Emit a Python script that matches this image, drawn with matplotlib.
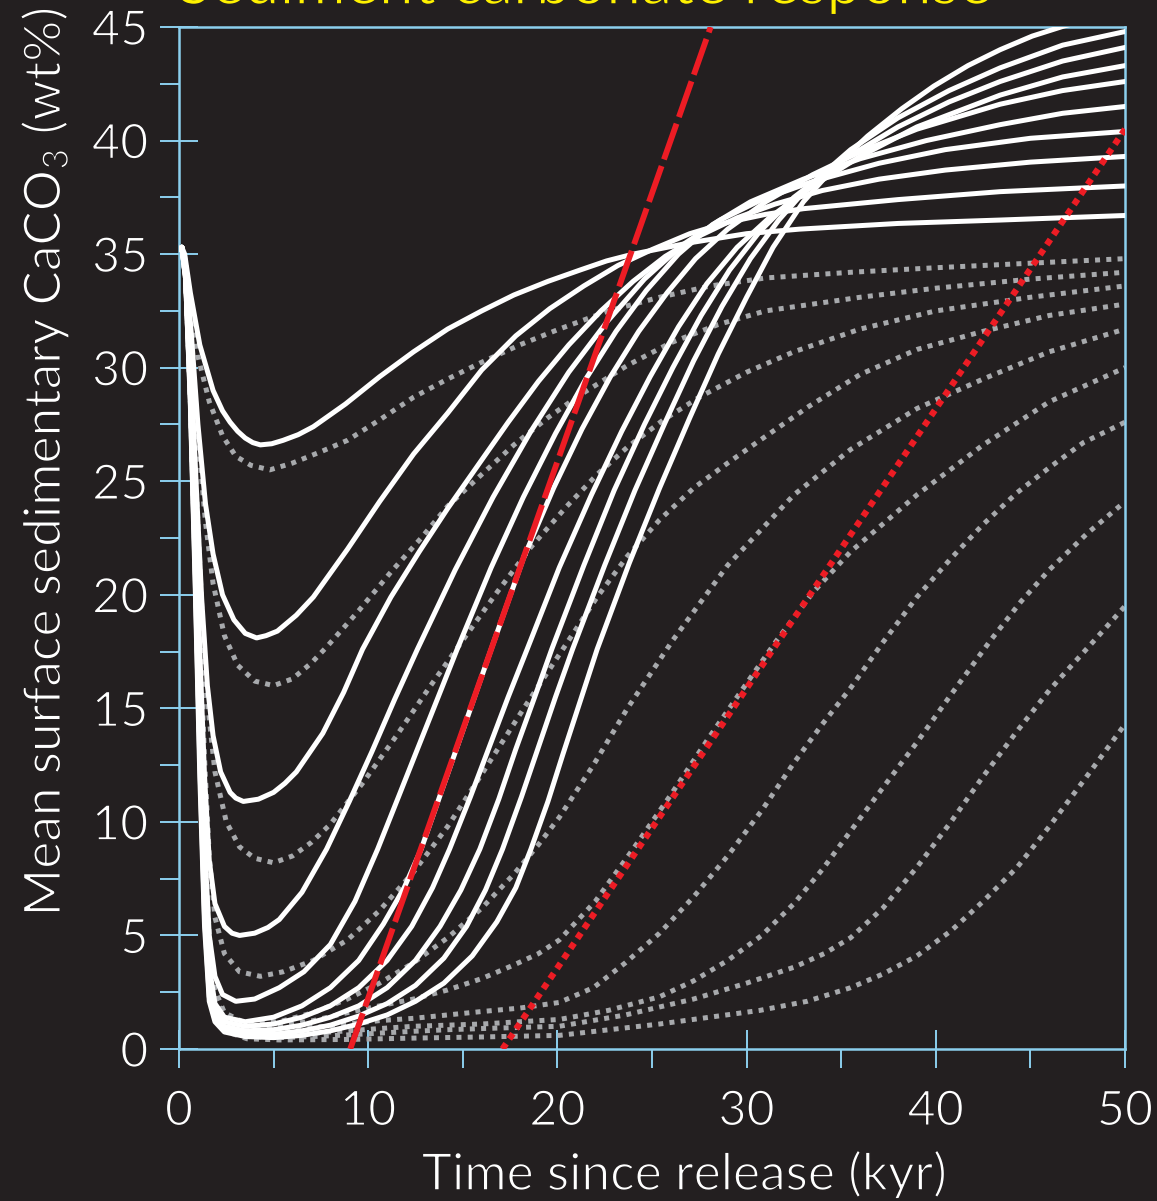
import matplotlib
matplotlib.use("Agg")
import matplotlib.pyplot as plt
import matplotlib.patheffects as pe
from matplotlib.ticker import MultipleLocator

# colours taken from the slide
BG = "#231f20"
AXIS_BLUE = "#8ccfee"
GREY = "#a7a9ac"
RED = "#ed1c24"
YELLOW = "#fff200"

# --- solid model runs (time kyr, CaCO3 wt%) ---
solid_1 = [(0, 35.2), (0.15, 35.3), (0.3, 35.0), (0.6, 33.3), (1.1, 31.0), (1.8, 29.0), (2.3, 28.1),
           (2.7, 27.6), (3.1, 27.2), (3.5, 26.9), (3.9, 26.7), (4.3, 26.6), (4.9, 26.65), (5.5, 26.8),
           (6.3, 27.05), (7.1, 27.4), (8.8, 28.4), (10.6, 29.6), (12.4, 30.7),
           (14.2, 31.7), (16.0, 32.5), (17.7, 33.2), (19.5, 33.8), (21.2, 34.3), (22.6, 34.7),
           (24.0, 35.0), (27.0, 35.5), (30.0, 35.9), (32.8, 36.1), (38.0, 36.35), (43.4, 36.5),
           (50.0, 36.7)]
solid_2 = [(0, 35.2), (0.15, 35.3), (0.35, 34.5), (0.65, 31.5), (1.0, 27.5), (1.4, 24.0), (1.8, 21.8),
           (2.3, 20.0), (2.9, 18.9), (3.5, 18.3), (4.1, 18.1), (4.6, 18.2), (5.2, 18.4), (6.2, 19.1),
           (7.1, 19.9), (8.9, 22.0), (10.6, 24.1), (12.4, 26.2), (14.2, 28.0), (16.0, 29.9),
           (17.8, 31.4), (19.6, 32.6), (21.4, 33.6), (23.2, 34.5), (25.0, 35.2), (27.0, 35.9),
           (29.0, 36.4), (31.0, 36.75), (33.0, 37.0), (38.0, 37.4), (43.4, 37.75), (50.0, 38.0)]
solid_3 = [(0, 35.2), (0.15, 35.3), (0.35, 34.3), (0.6, 30.5), (0.9, 25.0), (1.2, 19.8), (1.5, 16.0),
           (1.8, 13.8), (2.2, 12.2), (2.7, 11.3), (3.0, 11.05), (3.4, 10.9), (4.2, 11.0), (5.0, 11.3),
           (5.6, 11.7), (6.2, 12.2), (7.6, 13.9), (8.7, 15.7), (9.7, 17.6), (11.2, 19.9),
           (12.7, 21.9), (14.2, 23.8), (15.8, 25.7), (17.4, 27.6), (19.0, 29.4), (20.6, 31.0),
           (22.3, 32.5), (24.0, 33.8), (25.7, 34.9), (27.5, 35.8), (29.5, 36.6), (31.5, 37.2),
           (34.0, 37.8), (37.0, 38.3), (40.5, 38.7), (45.0, 39.05), (50.0, 39.3)]
solid_4 = [(0, 35.2), (0.15, 35.3), (0.35, 34.2), (0.6, 29.8), (0.85, 24.0), (1.1, 17.5), (1.35, 12.0),
           (1.6, 8.3), (1.9, 6.4), (2.4, 5.4), (2.8, 5.1), (3.2, 5.0), (4.0, 5.1), (4.7, 5.35),
           (5.3, 5.7), (6.5, 6.9), (7.8, 8.8), (9.0, 10.9), (10.2, 13.1), (11.4, 15.4), (12.6, 17.6),
           (14.6, 21.1), (16.6, 24.3), (18.6, 27.2), (20.6, 29.8), (22.6, 32.0), (24.6, 33.9),
           (26.6, 35.4), (28.6, 36.5), (30.8, 37.4), (33.5, 38.2), (37.0, 39.0), (40.5, 39.6),
           (45.0, 40.1), (50.0, 40.4)]
solid_5 = [(0, 35.2), (0.15, 35.3), (0.35, 34.2), (0.6, 29.5), (0.85, 23.0), (1.1, 15.5), (1.35, 9.0),
           (1.6, 5.0), (1.9, 3.2), (2.3, 2.4), (3.0, 2.1), (4.0, 2.2), (5.3, 2.7), (6.6, 3.4),
           (8.0, 4.6), (9.3, 6.5), (10.5, 8.8), (11.6, 11.1), (12.6, 13.2), (13.7, 15.5),
           (14.7, 17.6), (16.5, 21.2), (18.2, 24.3), (19.9, 27.1), (21.5, 29.5), (23.1, 31.6),
           (24.7, 33.4), (26.4, 35.0), (28.2, 36.3), (30.2, 37.3), (33.0, 38.3), (36.0, 39.2),
           (39.5, 40.0), (43.4, 40.7), (46.7, 41.2), (50.0, 41.5)]
solid_6 = [(0, 35.2), (0.15, 35.3), (0.35, 34.1), (0.6, 29.2), (0.85, 22.5), (1.1, 14.5), (1.35, 7.5),
           (1.6, 3.6), (1.9, 2.0), (2.4, 1.4), (3.5, 1.2), (5.0, 1.4), (6.5, 1.9), (8.0, 2.7),
           (9.5, 3.9), (10.8, 5.5), (11.9, 7.1), (12.8, 8.8), (14.7, 13.3), (16.5, 17.6),
           (18.2, 21.6), (19.8, 24.7), (21.3, 27.3), (22.8, 29.6), (24.3, 31.6), (25.8, 33.3),
           (27.3, 34.8), (29.0, 36.1), (31.0, 37.3), (33.5, 38.5), (36.0, 39.5), (39.0, 40.5),
           (43.4, 41.6), (46.7, 42.2), (50.0, 42.6)]
solid_7 = [(0, 35.2), (0.15, 35.3), (0.35, 34.0), (0.6, 29.0), (0.85, 22.0), (1.1, 13.8), (1.35, 6.8),
           (1.6, 3.0), (1.9, 1.7), (2.4, 1.2), (3.5, 1.0), (5.0, 1.1), (6.5, 1.4), (8.0, 1.9),
           (9.5, 2.7), (11.0, 3.9), (12.3, 5.4), (13.4, 7.1), (14.3, 8.8), (15.4, 11.1),
           (16.4, 13.3), (17.4, 15.5), (18.4, 17.6), (20.1, 21.2), (21.8, 24.4), (23.4, 27.2),
           (24.9, 29.6), (26.4, 31.8), (27.9, 33.7), (29.5, 35.3), (31.2, 36.6), (33.5, 38.0),
           (36.0, 39.3), (39.0, 40.6), (43.4, 42.0), (46.7, 42.8), (50.0, 43.3)]
solid_8 = [(0, 35.2), (0.15, 35.3), (0.35, 34.0), (0.6, 28.8), (0.85, 21.5), (1.1, 13.2), (1.35, 6.2),
           (1.6, 2.6), (1.9, 1.5), (2.4, 1.0), (3.5, 0.8), (5.0, 0.85), (6.5, 1.05), (8.0, 1.4),
           (9.5, 1.9), (11.0, 2.7), (12.5, 3.9), (13.8, 5.4), (14.9, 7.0), (15.9, 8.8),
           (16.9, 11.0), (17.8, 13.2), (18.8, 15.5), (19.7, 17.6), (21.4, 21.3), (23.0, 24.6),
           (24.6, 27.5), (26.1, 30.0), (27.6, 32.3), (29.1, 34.3), (30.7, 36.0), (32.5, 37.5),
           (35.0, 39.1), (38.0, 40.6), (40.7, 41.7), (43.4, 42.6), (46.7, 43.5), (50.0, 44.1)]
solid_9 = [(0, 35.2), (0.15, 35.3), (0.35, 33.9), (0.6, 28.6), (0.85, 21.0), (1.1, 12.6), (1.35, 5.8),
           (1.6, 2.3), (1.9, 1.3), (2.4, 0.85), (3.5, 0.65), (5.0, 0.65), (6.5, 0.8), (8.0, 1.05),
           (9.5, 1.45), (11.0, 2.0), (12.5, 2.8), (14.0, 4.0), (15.2, 5.4), (16.2, 7.0), (17.1, 8.8),
           (18.1, 11.1), (19.0, 13.3), (19.9, 15.5), (20.8, 17.6), (22.5, 21.3), (24.1, 24.6),
           (25.7, 27.6), (27.2, 30.3), (28.7, 32.7), (30.2, 34.8), (31.7, 36.5), (33.3, 38.0),
           (35.5, 39.6), (38.0, 41.0), (40.7, 42.2), (43.4, 43.2), (46.7, 44.2), (50.0, 44.8)]
solid_10 = [(0, 35.2), (0.15, 35.3), (0.35, 33.9), (0.6, 28.4), (0.85, 20.6), (1.1, 12.0), (1.35, 5.4),
            (1.6, 2.1), (1.9, 1.2), (2.4, 0.75), (3.5, 0.55), (5.0, 0.5), (6.5, 0.6), (8.0, 0.8),
            (9.5, 1.1), (11.0, 1.5), (12.5, 2.1), (14.0, 2.9), (15.5, 4.1), (16.8, 5.6), (17.8, 7.1),
            (18.6, 8.8), (19.5, 10.9), (20.3, 13.0), (21.2, 15.3), (22.1, 17.6), (23.8, 21.4),
            (25.4, 24.7), (27.0, 27.8), (28.5, 30.6), (30.0, 33.1), (31.4, 35.3), (33.0, 37.3),
            (34.6, 38.8), (36.4, 40.2), (38.2, 41.4), (39.9, 42.4), (41.7, 43.3), (43.4, 44.0),
            (45.1, 44.6), (46.8, 45.05), (50.0, 45.7)]

# --- dotted model runs ---
dotted_1 = [(0, 35.2), (0.15, 35.3), (0.3, 34.9), (0.6, 33.0), (1.0, 30.5), (1.6, 28.5), (2.3, 27.0),
            (3.0, 26.1), (3.8, 25.7), (4.8, 25.5), (6.0, 25.8), (7.5, 26.3), (8.9, 26.8), (10.6, 27.7),
            (12.4, 28.7), (14.2, 29.5), (15.9, 30.2), (18.0, 31.0), (20.1, 31.7), (22.7, 32.5),
            (25.4, 33.1), (28.1, 33.6), (31.0, 33.95), (35.5, 34.2), (40.0, 34.4), (45.0, 34.6),
            (50.0, 34.8)]
dotted_2 = [(0, 35.2), (0.15, 35.3), (0.35, 34.4), (0.65, 31.2), (1.0, 27.0), (1.4, 23.2), (1.8, 20.5),
            (2.4, 18.2), (3.1, 16.9), (4.0, 16.2), (5.0, 16.0), (6.0, 16.3), (7.0, 17.0), (7.8, 17.7),
            (9.5, 19.3), (11.2, 21.0), (12.8, 22.5), (14.2, 23.9), (16.0, 25.3), (17.7, 26.6),
            (19.5, 27.8), (21.2, 28.8), (23.7, 30.1), (26.0, 31.1), (28.5, 31.9), (31.0, 32.5),
            (33.5, 32.8), (36.0, 33.1), (40.0, 33.5), (45.0, 33.9), (50.0, 34.2)]
dotted_3 = [(0, 35.2), (0.15, 35.3), (0.35, 34.3), (0.6, 30.5), (0.9, 25.0), (1.2, 19.5), (1.5, 15.3),
            (1.9, 12.2), (2.5, 10.0), (3.2, 8.9), (4.0, 8.4), (5.0, 8.2), (6.0, 8.5), (7.0, 9.1),
            (8.0, 9.9), (9.7, 11.7), (11.5, 13.8), (13.3, 16.0), (15.0, 18.0), (16.8, 20.1),
            (18.6, 22.1), (20.5, 23.9), (22.1, 25.3), (23.7, 26.5), (25.6, 27.7), (27.5, 28.7),
            (30.0, 29.8), (32.5, 30.7), (36.0, 31.7), (40.0, 32.5), (45.0, 33.1), (50.0, 33.6)]
dotted_4 = [(0, 35.2), (0.15, 35.3), (0.35, 34.2), (0.6, 30.0), (0.85, 24.5), (1.1, 18.5), (1.35, 12.8),
            (1.6, 8.5), (1.9, 5.8), (2.4, 4.2), (3.2, 3.4), (4.3, 3.2), (5.5, 3.4), (7.1, 3.9),
            (8.9, 4.8), (10.6, 6.1), (12.4, 7.8), (14.2, 9.8), (16.0, 12.1), (18.3, 15.1),
            (20.6, 18.0), (22.1, 19.9), (23.7, 21.7), (25.4, 23.3), (27.2, 24.7), (29.0, 25.8),
            (30.7, 26.8), (33.3, 28.3), (36.0, 29.7), (39.0, 30.8), (42.5, 31.6), (46.0, 32.3),
            (50.0, 32.8)]
dotted_5 = [(0, 35.2), (0.15, 35.3), (0.35, 34.1), (0.6, 29.5), (0.85, 23.0), (1.1, 15.8), (1.35, 9.5),
            (1.6, 5.0), (1.9, 2.6), (2.4, 1.6), (3.6, 1.1), (5.3, 1.2), (7.1, 1.6), (8.9, 2.2),
            (10.6, 2.9), (12.4, 3.8), (14.2, 4.9), (16.0, 6.2), (17.7, 7.7), (19.0, 9.0),
            (20.1, 10.2), (21.9, 12.5), (23.7, 15.0), (26.1, 18.0), (29.0, 21.3), (32.5, 24.4),
            (35.5, 26.4), (39.0, 28.2), (42.5, 29.5), (46.0, 30.7), (50.0, 31.7)]
dotted_6 = [(0, 35.2), (0.15, 35.3), (0.35, 34.1), (0.6, 29.3), (0.85, 22.7), (1.1, 15.2), (1.35, 8.8),
            (1.6, 4.4), (1.9, 2.3), (2.4, 1.4), (3.6, 0.95), (5.3, 1.0), (7.1, 1.25), (8.9, 1.6),
            (10.6, 1.9), (12.4, 2.2), (14.2, 2.6), (16.0, 3.1), (17.7, 3.7), (19.0, 4.2), (20.1, 4.8),
            (22.0, 6.5), (24.0, 8.8), (26.0, 11.2), (28.0, 13.7), (30.0, 16.1), (31.6, 18.0),
            (33.5, 20.1), (35.5, 21.9), (39.0, 24.4), (42.5, 26.6), (46.0, 28.5), (50.0, 30.0)]
dotted_7 = [(0, 35.2), (0.15, 35.3), (0.35, 34.0), (0.6, 29.1), (0.85, 22.3), (1.1, 14.6), (1.35, 8.2),
            (1.6, 3.9), (1.9, 2.1), (2.4, 1.2), (3.6, 0.8), (5.3, 0.8), (7.1, 0.95), (8.9, 1.1),
            (10.6, 1.25), (12.4, 1.35), (14.2, 1.5), (16.0, 1.65), (18.0, 1.8), (20.1, 2.05),
            (21.9, 2.7), (23.6, 3.8), (25.4, 5.1), (27.2, 6.7), (29.0, 8.5), (30.8, 10.5),
            (32.5, 12.6), (34.0, 14.3), (35.5, 15.9), (37.2, 17.9), (39.0, 19.9), (40.8, 21.6),
            (42.5, 23.1), (44.3, 24.5), (46.0, 25.6), (47.8, 26.7), (50.0, 27.6)]
dotted_8 = [(0, 35.2), (0.15, 35.3), (0.35, 34.0), (0.6, 28.9), (0.85, 22.0), (1.1, 14.0), (1.35, 7.6),
            (1.6, 3.5), (1.9, 2.0), (2.4, 1.0), (3.6, 0.65), (5.3, 0.6), (7.1, 0.7), (8.9, 0.8),
            (10.6, 0.9), (12.4, 1.0), (14.2, 1.05), (16.0, 1.1), (18.0, 1.2), (20.1, 1.3),
            (22.7, 1.7), (25.4, 2.3), (27.2, 3.0), (29.0, 3.9), (30.8, 5.0), (32.5, 6.4), (34.0, 7.9),
            (35.5, 9.6), (37.2, 11.5), (39.0, 13.5), (40.8, 15.6), (42.9, 18.0), (44.5, 19.7),
            (46.0, 21.1), (48.0, 22.7), (50.0, 24.1)]
dotted_9 = [(0, 35.2), (0.15, 35.3), (0.35, 33.9), (0.6, 28.7), (0.85, 21.7), (1.1, 13.5), (1.35, 7.0),
            (1.6, 3.2), (1.9, 1.9), (2.4, 0.9), (3.6, 0.55), (5.3, 0.5), (7.1, 0.55), (8.9, 0.62),
            (10.6, 0.7), (12.4, 0.78), (14.2, 0.85), (16.0, 0.9), (18.0, 0.95), (20.1, 1.0),
            (23.6, 1.5), (27.2, 2.2), (30.0, 2.9), (32.5, 3.6), (34.1, 4.2), (35.5, 4.9), (37.2, 6.2),
            (39.0, 8.0), (40.8, 10.0), (42.5, 12.0), (44.3, 14.0), (46.0, 15.8), (47.3, 17.0),
            (48.5, 18.1), (50.0, 19.5)]
dotted_10 = [(0, 35.2), (0.15, 35.3), (0.35, 33.9), (0.6, 28.5), (0.85, 21.4), (1.1, 13.0), (1.35, 6.5),
             (1.6, 3.0), (1.9, 1.8), (2.4, 0.8), (3.6, 0.45), (5.3, 0.4), (8.9, 0.42), (12.4, 0.48),
             (16.0, 0.53), (20.1, 0.6), (25.4, 1.1), (30.7, 1.7), (33.2, 2.1), (35.5, 2.7),
             (37.2, 3.3), (39.0, 4.1), (40.8, 5.2), (42.5, 6.5), (44.3, 8.0), (46.0, 9.8),
             (47.8, 11.8), (50.0, 14.3)]

# red guide lines
red_dashed_t = [9.05, 28.1]
red_dashed_v = [0.0, 45.0]
red_dotted_t = [17.1, 50.0]
red_dotted_v = [0.0, 40.5]

solid_runs = [solid_1, solid_2, solid_3, solid_4, solid_5,
              solid_6, solid_7, solid_8, solid_9, solid_10]
dotted_runs = [dotted_1, dotted_2, dotted_3, dotted_4, dotted_5,
               dotted_6, dotted_7, dotted_8, dotted_9, dotted_10]

plt.rcParams["font.family"] = ["Lato", "DejaVu Sans"]
plt.rcParams["font.weight"] = "normal"
plt.rcParams["mathtext.fontset"] = "custom"
plt.rcParams["mathtext.rm"] = "Lato"
plt.rcParams["mathtext.it"] = "Lato"

# the slide font is thinner than Lato regular: shave the outline with background colour
thin = [pe.Stroke(linewidth=1.1, foreground=BG)]

W, H = 1157, 1201
fig = plt.figure(figsize=(W / 100, H / 100), dpi=100, facecolor=BG)
ax = fig.add_axes([179 / W, 1 - 1049 / H, (1125 - 179) / W, (1049 - 27) / H])
ax.set_facecolor(BG)

for run in dotted_runs:
    t, v = zip(*run)
    ax.plot(t, v, color=GREY, lw=3.6, linestyle=(0, (1, 1.25)),
            dash_capstyle="butt", zorder=2)

for run in solid_runs:
    t, v = zip(*run)
    ax.plot(t, v, color="white", lw=3.6, solid_joinstyle="round",
            solid_capstyle="round", zorder=3)

ax.plot(red_dotted_t, red_dotted_v, color=RED, lw=4.6, linestyle=(0, (1, 0.9)),
        dash_capstyle="butt", zorder=4)
ax.plot(red_dashed_t, red_dashed_v, color=RED, lw=4.2, linestyle=(0, (6.5, 1.2)),
        dash_capstyle="butt", zorder=4)

ax.set_xlim(0, 50)
ax.set_ylim(0, 45)
ax.xaxis.set_major_locator(MultipleLocator(10))
ax.xaxis.set_minor_locator(MultipleLocator(5))
ax.yaxis.set_major_locator(MultipleLocator(5))
ax.yaxis.set_minor_locator(MultipleLocator(2.5))

for sp in ax.spines.values():
    sp.set_color(AXIS_BLUE)
    sp.set_linewidth(1.8)

ax.tick_params(which="major", direction="inout", length=28, width=1.4,
               color=AXIS_BLUE, labelcolor="white", labelsize=35)
ax.tick_params(which="minor", direction="out", length=14, width=1.4, color=AXIS_BLUE)
ax.tick_params(axis="x", which="major", pad=15)
ax.tick_params(axis="y", which="major", pad=8)
for lab in ax.get_xticklabels() + ax.get_yticklabels():
    lab.set_path_effects(thin)

fig.text(684 / W, 1 - 1190 / H, "Time since release (kyr)", color="white",
         fontsize=37, ha="center", va="baseline", path_effects=thin)
fig.text(45 / W, 1 - 462 / H, r"Mean surface sedimentary CaCO$_3$ (wt%)", color="white",
         fontsize=37, ha="center", va="center", rotation=90, path_effects=thin)
fig.text(585 / W, 1 - 4 / H, "Sediment carbonate response", color=YELLOW,
         fontsize=45, ha="center", va="baseline", path_effects=thin)

fig.savefig("out.png", dpi=100, facecolor=BG)
